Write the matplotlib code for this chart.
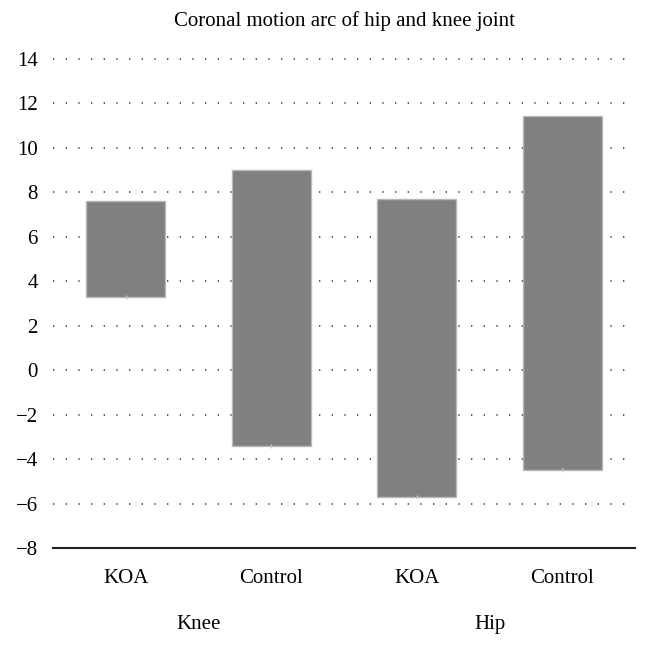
#!/usr/bin/env python3
import matplotlib
matplotlib.use('Agg')
import matplotlib.pyplot as plt

# Coronal motion arc (deg): lower and upper end of each range bar
categories = ['KOA', 'Control', 'KOA', 'Control']
groups = ['Knee', 'Hip']
arc_low = [3.3, -3.4, -5.7, -4.5]
arc_high = [7.6, 9.0, 7.7, 11.45]
y_ticks = [-8, -6, -4, -2, 0, 2, 4, 6, 8, 10, 12, 14]


def plot_motion_arc(output):
    """Floating bar chart of the coronal motion arc"""
    plt.rcParams['font.family'] = ['Liberation Serif', 'DejaVu Serif']
    fig = plt.figure(figsize=(6.45, 6.46), dpi=100)
    ax = fig.add_axes([0.0822, 0.1517, 0.9023, 0.757])

    x = list(range(len(categories)))
    heights = [h - l for l, h in zip(arc_low, arc_high)]

    # Dotted grid
    for t in y_ticks[1:]:
        ax.axhline(t, color='#444444', linewidth=1.2,
                   linestyle=(0, (0.8, 6.8)), zorder=1, clip_on=False)

    ax.bar(x, heights, bottom=arc_low, width=0.54, color='#808080',
           edgecolor='#b8b8b8', linewidth=1.0, zorder=2)
    # tiny light mark at the bottom of each bar
    ax.plot(x, arc_low, linestyle='none', marker='|', markersize=3,
            color='#c8c8c8', zorder=3)

    ax.set_xlim(-0.5, 3.5)
    ax.set_ylim(-8, 14)
    ax.set_yticks(y_ticks)
    ax.set_yticklabels([str(t).replace('-', '\u2212') for t in y_ticks],
                       fontsize=15)
    ax.set_xticks(x)
    ax.set_xticklabels(categories, fontsize=15)
    ax.tick_params(axis='both', length=0)
    ax.tick_params(axis='y', pad=11)
    ax.tick_params(axis='x', pad=15)

    for side in ['left', 'right', 'top']:
        ax.spines[side].set_visible(False)
    ax.spines['bottom'].set_linewidth(1.5)
    ax.spines['bottom'].set_color('#222222')

    # Group labels below the category labels
    for i, g in enumerate(groups):
        ax.text(2 * i + 0.5, -0.157, g, transform=ax.get_xaxis_transform(),
                ha='center', va='center', fontsize=15)

    ax.set_title('Coronal motion arc of hip and knee joint', fontsize=15,
                 pad=24)

    fig.savefig(output, dpi=100)
    plt.close(fig)


if __name__ == '__main__':
    plot_motion_arc('out.png')
